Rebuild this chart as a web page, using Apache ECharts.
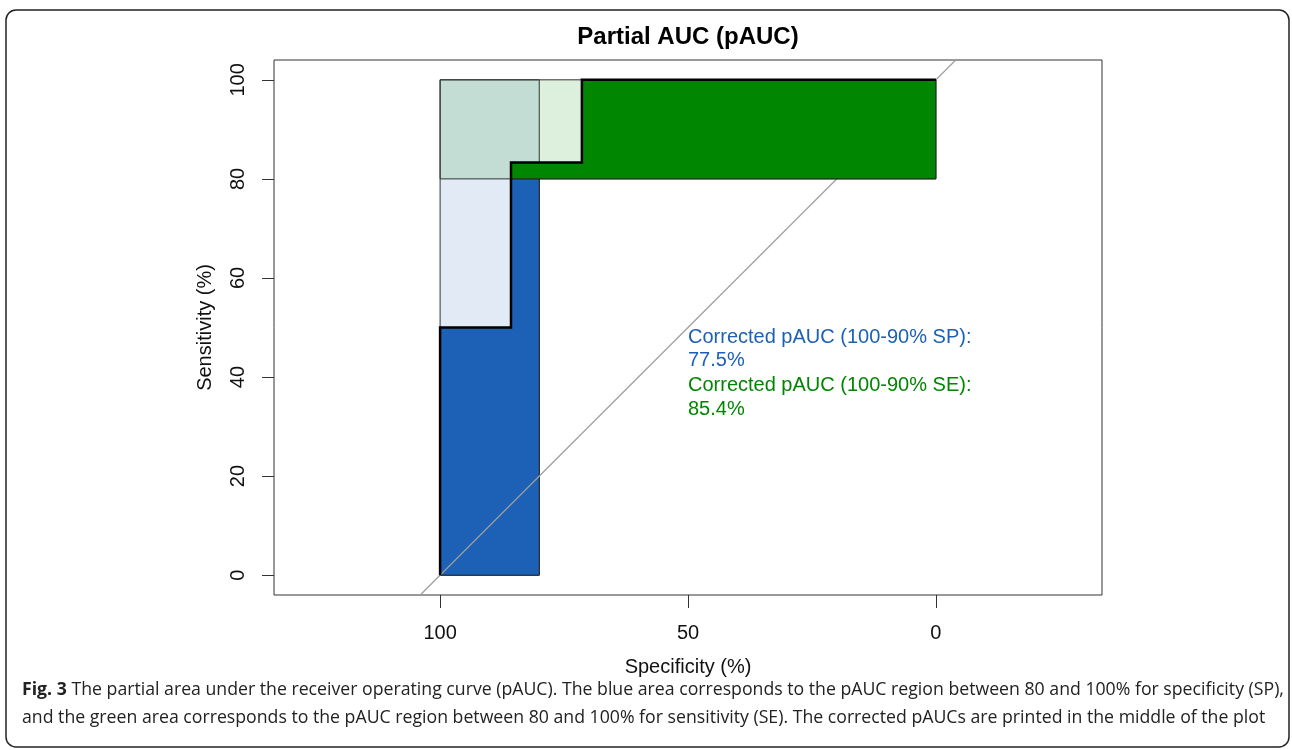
<!DOCTYPE html>
<html>
<head>
<meta charset="utf-8">
<script src="https://cdn.jsdelivr.net/npm/echarts@6/dist/echarts.min.js"></script>
<style>
  html, body { margin: 0; padding: 0; background: #fff; }
  #chart { width: 1292px; height: 750px; }
</style>
</head>
<body>
<div id="chart"></div>
<script>
// ROC curve steps (specificity %, sensitivity %)
const rocCurve = [[100, 0], [100, 50], [85.7, 50], [85.7, 83.3], [71.4, 83.3], [71.4, 100], [0, 100]];
// Partial AUC region for specificity 80–100 (under the curve)
const spRegion = [[100, 0], [100, 50], [85.7, 50], [85.7, 83.3], [80, 83.3], [80, 0]];
// Partial AUC region for sensitivity 80–100 (right of the curve)
const seRegion = [[85.7, 80], [85.7, 83.3], [71.4, 83.3], [71.4, 100], [0, 100], [0, 80]];
// Maximal pAUC rectangles
const spMaxRegion = [[100, 0], [100, 100], [80, 100], [80, 0]];
const seMaxRegion = [[100, 80], [100, 100], [0, 100], [0, 80]];
// Chance diagonal, spanning the whole plotting range
const chanceLine = [[104, -4], [-4, 104]];
// Axis ticks
const xTicks = [0, 50, 100];
const yTicks = [0, 20, 40, 60, 80, 100];
// Corrected pAUC values
const spCorrected = '77.5%';
const seCorrected = '85.4%';

const BLUE = '#1c61b6';
const GREEN = '#008600';

function polygonSeries(points, fill, stroke, z) {
  return {
    type: 'custom',
    coordinateSystem: 'cartesian2d',
    data: [points[0]],
    silent: true,
    z: z,
    renderItem: function (params, api) {
      return {
        type: 'polygon',
        shape: { points: points.map(p => api.coord(p)) },
        style: { fill: fill, stroke: stroke, lineWidth: 1 }
      };
    }
  };
}

const chart = echarts.init(document.getElementById('chart'), null, { renderer: 'canvas' });
const font = '"Liberation Sans", Arial, sans-serif';

chart.setOption({
  animation: false,
  backgroundColor: '#fff',
  grid: {
    left: 274, top: 60, width: 828, height: 535,
    show: true, borderColor: '#333', borderWidth: 1, backgroundColor: 'transparent'
  },
  xAxis: {
    type: 'value', inverse: true, min: -33.5, max: 133.5,
    name: 'Specificity (%)', nameLocation: 'middle', nameGap: 62,
    nameTextStyle: { fontFamily: font, fontSize: 20, color: '#111' },
    axisLine: { show: false, onZero: false },
    axisTick: { show: true, length: 13, lineStyle: { color: '#333' }, customValues: xTicks },
    axisLabel: { fontFamily: font, fontSize: 20, color: '#111', margin: 28, customValues: xTicks },
    splitLine: { show: false }
  },
  yAxis: {
    type: 'value', min: -4, max: 104,
    name: 'Sensitivity (%)', nameLocation: 'middle', nameGap: 59,
    nameTextStyle: { fontFamily: font, fontSize: 20, color: '#111' },
    axisLine: { show: false, onZero: false },
    axisTick: { show: true, length: 12, lineStyle: { color: '#333' }, customValues: yTicks },
    axisLabel: { fontFamily: font, fontSize: 20, color: '#111', margin: 26, rotate: 90, customValues: yTicks },
    splitLine: { show: false }
  },
  series: [
    polygonSeries(spMaxRegion, 'rgba(28,97,182,0.133)', '#333', 1),
    polygonSeries(spRegion, BLUE, '#222', 2),
    {
      type: 'line', data: chanceLine, symbol: 'none', silent: true, z: 3,
      lineStyle: { color: '#9e9e9e', width: 1.2 }
    },
    polygonSeries(seMaxRegion, 'rgba(0,134,0,0.133)', '#333', 4),
    polygonSeries(seRegion, GREEN, '#222', 5),
    {
      type: 'line', data: rocCurve, symbol: 'none', silent: true, z: 6,
      lineStyle: { color: '#000', width: 2.5, join: 'miter' }
    }
  ],
  graphic: [
    {
      type: 'rect', shape: { x: 6, y: 10, width: 1283, height: 737, r: 10 },
      style: { fill: 'none', stroke: '#222', lineWidth: 1.5 }, z: 100, silent: true
    },
    {
      type: 'text', x: 688, y: 37, z: 100,
      style: { text: 'Partial AUC (pAUC)', font: 'bold 24px ' + font, fill: '#000', align: 'center', verticalAlign: 'middle' }
    },
    {
      type: 'text', x: 688, y: 337, z: 100,
      style: { text: 'Corrected pAUC (100-90% SP):', font: '20px ' + font, fill: BLUE, align: 'left', verticalAlign: 'middle' }
    },
    {
      type: 'text', x: 688, y: 360, z: 100,
      style: { text: spCorrected, font: '20px ' + font, fill: BLUE, align: 'left', verticalAlign: 'middle' }
    },
    {
      type: 'text', x: 688, y: 385, z: 100,
      style: { text: 'Corrected pAUC (100-90% SE):', font: '20px ' + font, fill: GREEN, align: 'left', verticalAlign: 'middle' }
    },
    {
      type: 'text', x: 688, y: 409, z: 100,
      style: { text: seCorrected, font: '20px ' + font, fill: GREEN, align: 'left', verticalAlign: 'middle' }
    },
    {
      type: 'text', x: 22, y: 690, z: 100,
      style: {
        text: '{b|Fig. 3} The partial area under the receiver operating curve (pAUC). The blue area corresponds to the pAUC region between 80 and 100% for specificity (SP),',
        font: '17.7px "Open Sans", sans-serif', fill: '#222', verticalAlign: 'middle',
        rich: { b: { font: 'bold 17.7px "Open Sans", sans-serif', fill: '#222' } }
      }
    },
    {
      type: 'text', x: 22, y: 718, z: 100,
      style: {
        text: 'and the green area corresponds to the pAUC region between 80 and 100% for sensitivity (SE). The corrected pAUCs are printed in the middle of the plot',
        font: '17.7px "Open Sans", sans-serif', fill: '#222', verticalAlign: 'middle'
      }
    }
  ]
});
</script>
</body>
</html>
